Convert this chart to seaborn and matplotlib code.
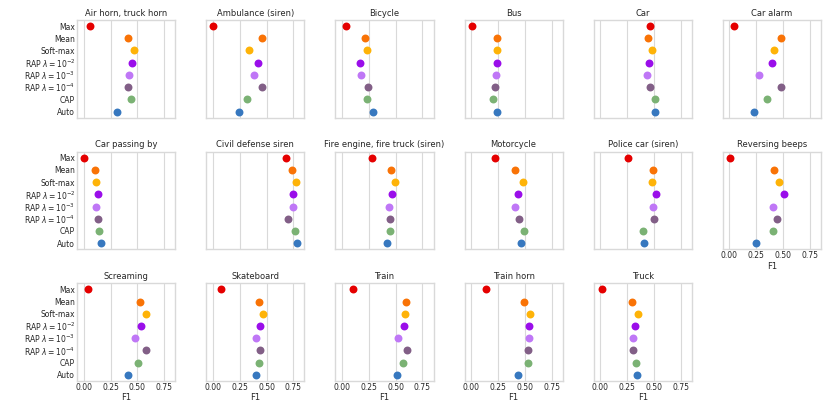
import pandas as pd
import seaborn as sns
import matplotlib.pyplot as plt

# Sound event classes (one panel each)
classes = [
    "Air horn, truck horn", "Ambulance (siren)", "Bicycle", "Bus", "Car", "Car alarm",
    "Car passing by", "Civil defense siren", "Fire engine, fire truck (siren)",
    "Motorcycle", "Police car (siren)", "Reversing beeps", "Screaming", "Skateboard",
    "Train", "Train horn", "Truck",
]

methods = ["Max", "Mean", "Soft-max", r"RAP $\lambda = 10^{-2}$", r"RAP $\lambda = 10^{-3}$",
           r"RAP $\lambda = 10^{-4}$", "CAP", "Auto"]

# F1 per class, one list per pooling method
f1_max = [0.053, 0.0, 0.04, 0.005, 0.46, 0.04, 0.0, 0.684, 0.28, 0.22, 0.256, 0.003, 0.038, 0.072, 0.103, 0.14, 0.02]
f1_mean = [0.41, 0.455, 0.21, 0.24, 0.447, 0.48, 0.10, 0.734, 0.453, 0.41, 0.49, 0.42, 0.52, 0.428, 0.597, 0.49, 0.294]
f1_softmax = [0.47, 0.34, 0.235, 0.245, 0.48, 0.42, 0.115, 0.775, 0.497, 0.485, 0.484, 0.46, 0.58, 0.47, 0.59, 0.547, 0.353]
f1_rap2 = [0.45, 0.42, 0.165, 0.245, 0.453, 0.40, 0.13, 0.744, 0.47, 0.44, 0.516, 0.506, 0.534, 0.438, 0.578, 0.538, 0.325]
f1_rap3 = [0.425, 0.38, 0.18, 0.23, 0.434, 0.275, 0.11, 0.744, 0.44, 0.41, 0.494, 0.403, 0.478, 0.40, 0.52, 0.54, 0.306]
f1_rap4 = [0.41, 0.455, 0.24, 0.22, 0.466, 0.48, 0.13, 0.697, 0.447, 0.45, 0.503, 0.447, 0.58, 0.44, 0.606, 0.528, 0.306]
f1_cap = [0.44, 0.315, 0.235, 0.205, 0.506, 0.355, 0.145, 0.769, 0.444, 0.49, 0.40, 0.406, 0.506, 0.434, 0.57, 0.528, 0.334]
f1_auto = [0.31, 0.24, 0.285, 0.245, 0.506, 0.23, 0.16, 0.784, 0.42, 0.46, 0.41, 0.25, 0.41, 0.406, 0.51, 0.44, 0.34]

colors = ["xkcd:red", "xkcd:orange", "xkcd:amber", "xkcd:violet", "xkcd:light purple",
          "xkcd:dusty purple", "xkcd:faded green", "xkcd:windows blue"]

all_scores = [f1_max, f1_mean, f1_softmax, f1_rap2, f1_rap3, f1_rap4, f1_cap, f1_auto]
rows = []
for method, scores in zip(methods, all_scores):
    for cls, val in zip(classes, scores):
        rows.append({"class": cls, "method": method, "F1": val})
df = pd.DataFrame(rows)

sns.set_style("whitegrid")
plt.rcParams.update({
    "font.family": ["DejaVu Sans"],
    "xtick.labelsize": 5.5,
    "ytick.labelsize": 5.5,
    "axes.labelsize": 6,
    "axes.titlesize": 6.2,
    "axes.edgecolor": ".85",
    "axes.linewidth": 1.0,
    "grid.color": ".85",
})

g = sns.catplot(data=df, x="F1", y="method", col="class", col_wrap=6, kind="strip",
                hue="method", palette=colors, order=methods, col_order=classes,
                jitter=False, size=5.7, linewidth=0, legend=False,
                height=1.4, aspect=1.0, facet_kws={"despine": False})
g.set_titles("{col_name}", pad=3)
g.set(xlim=(-0.062, 0.853), xticks=[0, 0.25, 0.5, 0.75])
g.set_axis_labels("F1", "")
for ax in g.axes.flat:
    ax.tick_params(axis="both", pad=1.5, length=0)
    ax.xaxis.labelpad = 1
    ax.set_xticklabels(["0.00", "0.25", "0.50", "0.75"])
    for sp in ax.spines.values():
        sp.set_visible(True)

g.figure.set_size_inches(8.3, 4.15)
g.figure.subplots_adjust(left=0.093, right=0.989, top=0.952, bottom=0.082,
                         wspace=0.316, hspace=0.347)
g.figure.savefig("out.png", dpi=100)
